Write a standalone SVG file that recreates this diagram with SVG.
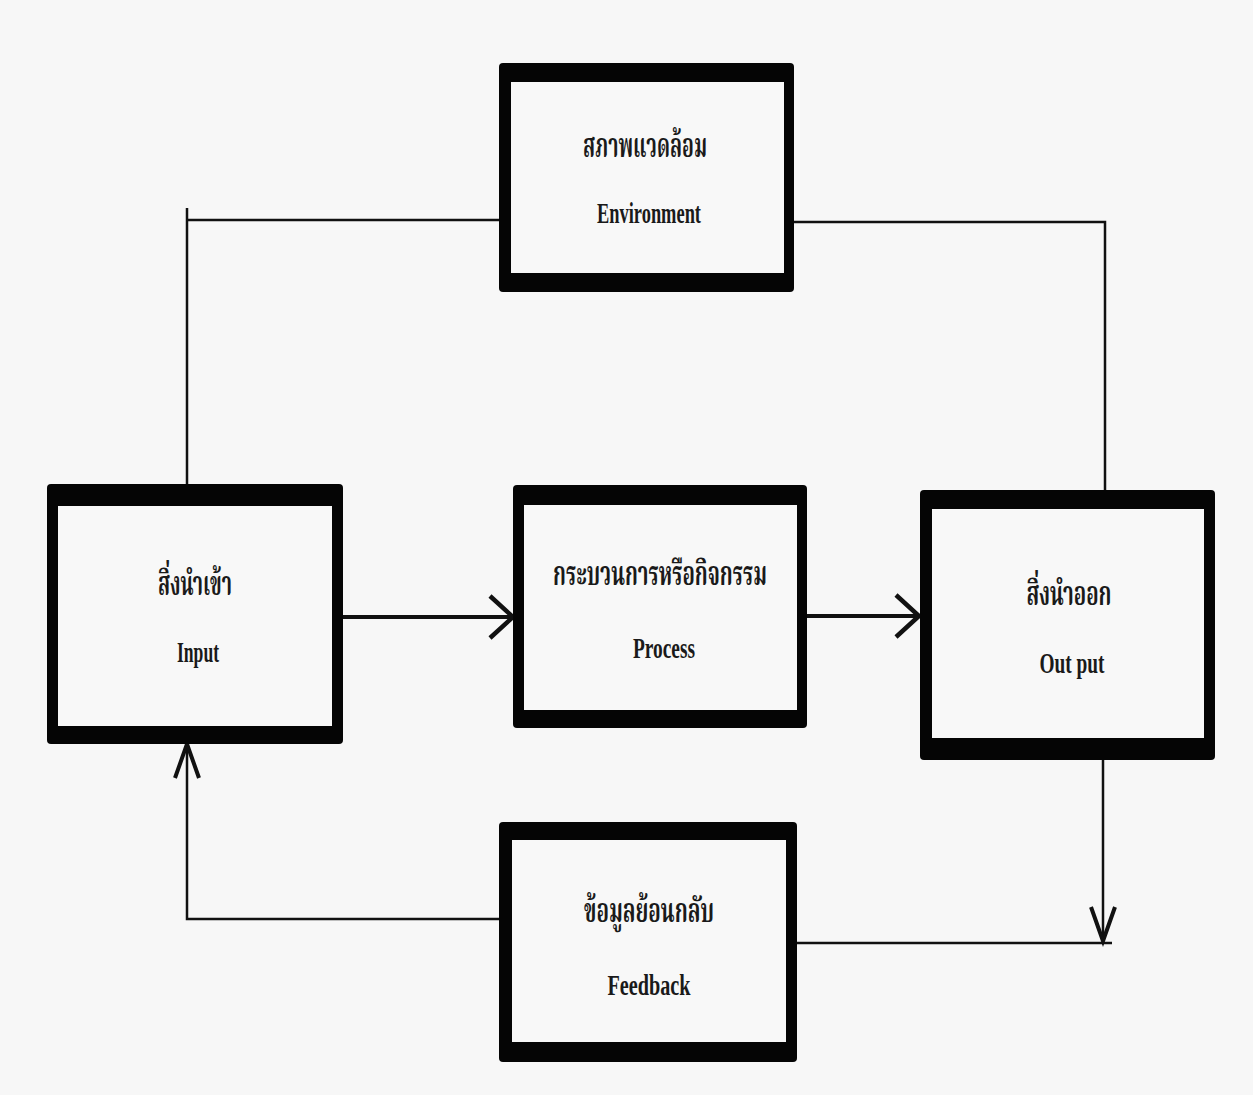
<svg xmlns="http://www.w3.org/2000/svg" width="1253" height="1095" viewBox="0 0 1253 1095">
<style>
.frame{fill:#050505}
.inner{fill:#f8f8f8}
.th{font-family:"Noto Serif Thai","Noto Sans Thai","Liberation Serif",serif;font-size:34px;font-weight:bold;fill:#1a1a1a;text-anchor:middle}
.en{font-family:"Liberation Serif","Times New Roman",serif;font-size:30px;font-weight:bold;fill:#1a1a1a;text-anchor:middle}
.thin{fill:none;stroke:#111;stroke-width:2.5}
.thick{fill:none;stroke:#111;stroke-width:4}
</style>
<defs>
<marker id="chevH" markerUnits="userSpaceOnUse" viewBox="-30 -30 40 60" refX="0" refY="0" markerWidth="40" markerHeight="60" orient="auto" overflow="visible">
<path d="M-23,-21 L0,0 L-23,21" fill="none" stroke="#111" stroke-width="4.5"/>
</marker>
<marker id="chevV" markerUnits="userSpaceOnUse" viewBox="-40 -20 50 40" refX="0" refY="0" markerWidth="50" markerHeight="40" orient="auto" overflow="visible">
<path d="M-34,-12 L0,0 L-34,12" fill="none" stroke="#111" stroke-width="4"/>
</marker>
</defs>
<rect width="1253" height="1095" fill="#f7f7f7"/>

<g id="connectors">
<path class="thin" d="M187,208 V486 M187,220 H500"/>
<path class="thin" d="M793,222 H1105 V492"/>
<path class="thick" d="M342,617 H513" marker-end="url(#chevH)"/>
<path class="thick" d="M806,616 H919" marker-end="url(#chevH)"/>
<path class="thin" d="M1103,758 V941" marker-end="url(#chevV)"/>
<path class="thin" d="M796,943 H1112"/>
<path class="thin" d="M500,919 H187 V744" marker-end="url(#chevV)"/>
</g>

<g id="environment">
<rect class="frame" x="499" y="63" width="295" height="229" rx="4"/>
<rect class="inner" x="511" y="82" width="273" height="191"/>
<text class="th" x="645" y="157" textLength="124" lengthAdjust="spacingAndGlyphs">สภาพแวดล้อม</text>
<text class="en" x="649" y="223" textLength="104" lengthAdjust="spacingAndGlyphs">Environment</text>
</g>

<g id="input">
<rect class="frame" x="47" y="484" width="296" height="260" rx="4"/>
<rect class="inner" x="58" y="506" width="274" height="220"/>
<text class="th" x="195" y="595" textLength="74" lengthAdjust="spacingAndGlyphs">สิ่งนำเข้า</text>
<text class="en" x="198" y="662" textLength="42" lengthAdjust="spacingAndGlyphs">Input</text>
</g>

<g id="process">
<rect class="frame" x="513" y="485" width="294" height="243" rx="4"/>
<rect class="inner" x="524" y="505" width="273" height="205"/>
<text class="th" x="660" y="585" textLength="214" lengthAdjust="spacingAndGlyphs">กระบวนการหรือกิจกรรม</text>
<text class="en" x="664" y="658" textLength="62" lengthAdjust="spacingAndGlyphs">Process</text>
</g>

<g id="output">
<rect class="frame" x="920" y="490" width="295" height="270" rx="4"/>
<rect class="inner" x="932" y="509" width="272" height="229"/>
<text class="th" x="1069" y="605" textLength="85" lengthAdjust="spacingAndGlyphs">สิ่งนำออก</text>
<text class="en" x="1072" y="673" textLength="65" lengthAdjust="spacingAndGlyphs">Out put</text>
</g>

<g id="feedback">
<rect class="frame" x="499" y="822" width="298" height="240" rx="4"/>
<rect class="inner" x="512" y="840" width="274" height="202"/>
<text class="th" x="649" y="922" textLength="130" lengthAdjust="spacingAndGlyphs">ข้อมูลย้อนกลับ</text>
<text class="en" x="649" y="995" textLength="83" lengthAdjust="spacingAndGlyphs">Feedback</text>
</g>
</svg>
